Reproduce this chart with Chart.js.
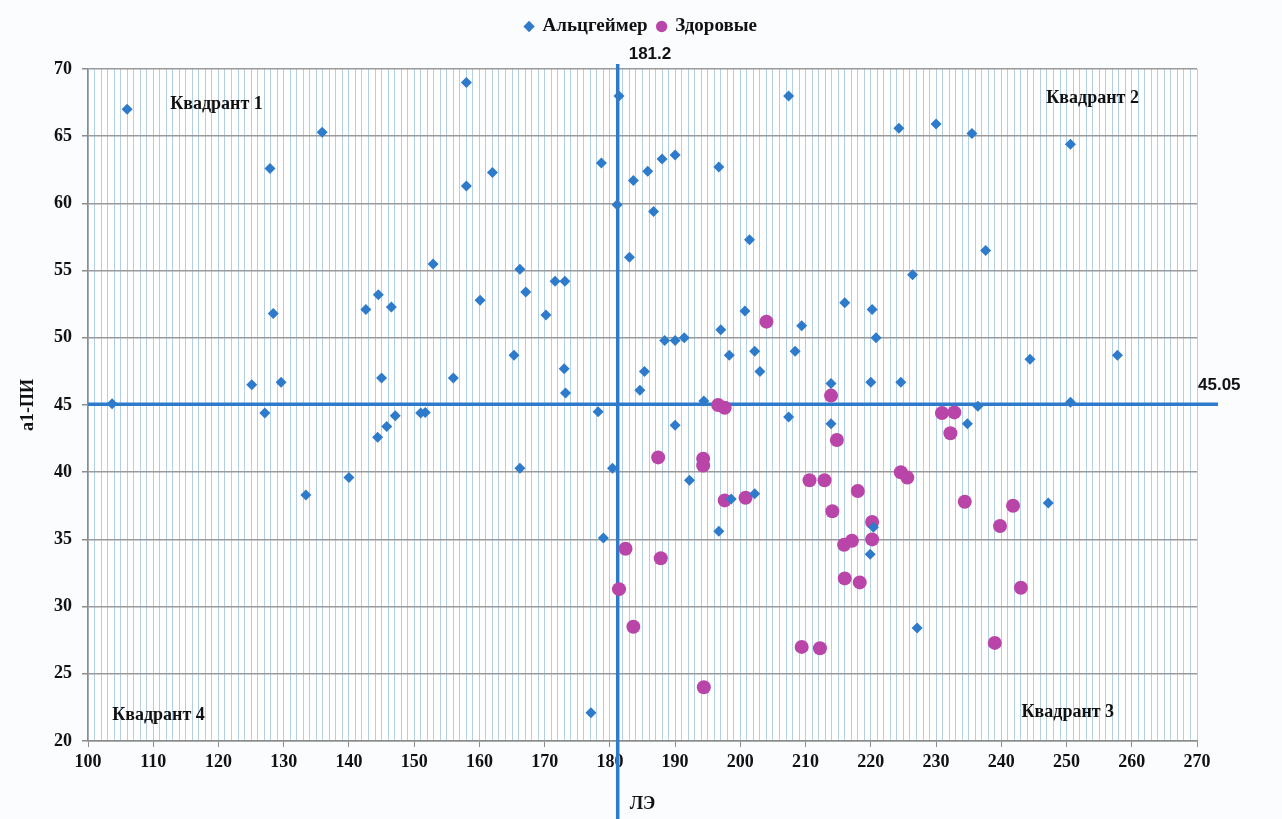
<!DOCTYPE html>
<html>
<head>
<meta charset="utf-8">
<script src="https://cdn.jsdelivr.net/npm/chart.js@4.4.1/dist/chart.umd.min.js"></script>
<style>
  html, body { margin: 0; padding: 0; background: #fbfcfe; }
  #wrap { width: 1282px; height: 819px; }
</style>
</head>
<body>
<div id="wrap"><canvas id="c" width="1282" height="819"></canvas></div>
<script>
// ЛЭ (x) and a1-ПИ (y) for the Alzheimer group
const alzX = [106.0, 127.9, 135.9, 158.0, 128.4, 125.1, 127.1, 129.6, 103.7, 133.4,
  140.0, 142.6, 144.5, 146.5, 145.0, 144.4, 145.8, 147.1, 151.0, 151.7,
  152.9, 156.0, 158.0, 162.0, 160.1, 165.3, 166.2, 167.1, 166.2, 170.2,
  171.6, 173.1, 173.0, 173.2, 178.2, 180.4, 179.0, 177.1, 178.7, 181.1,
  181.4, 183.0, 183.6, 185.8, 188.0, 190.0, 186.7, 196.7, 201.4, 207.4,
  188.4, 190.0, 191.4, 185.3, 184.6, 190.0, 192.2, 194.4, 197.0, 198.3,
  200.7, 202.2, 203.0, 209.4, 208.4, 207.4, 216.0, 220.2, 220.8, 213.9,
  220.0, 213.9, 198.6, 202.2, 196.7, 219.9, 220.4, 227.1, 224.3, 230.0,
  235.5, 237.6, 250.6, 226.4, 244.4, 257.8, 224.6, 236.4, 234.8, 250.6,
  247.2];
const alzY = [67.0, 62.6, 65.3, 69.0, 51.8, 46.5, 44.4, 46.7, 45.1, 38.3,
  39.6, 52.1, 53.2, 52.3, 47.0, 42.6, 43.4, 44.2, 44.4, 44.45,
  55.5, 47.0, 61.3, 62.3, 52.8, 48.7, 55.1, 53.4, 40.3, 51.7,
  54.2, 54.2, 47.7, 45.9, 44.5, 40.3, 35.1, 22.1, 63.0, 59.9,
  68.0, 56.0, 61.7, 62.4, 63.3, 63.6, 59.4, 62.7, 57.3, 68.0,
  49.8, 49.8, 50.0, 47.5, 46.1, 43.5, 39.4, 45.3, 50.6, 48.7,
  52.0, 49.0, 47.5, 50.9, 49.0, 44.1, 52.6, 52.1, 50.0, 46.6,
  46.7, 43.6, 38.0, 38.4, 35.6, 33.9, 35.9, 28.4, 65.6, 65.9,
  65.2, 56.5, 64.4, 54.7, 48.4, 48.7, 46.7, 44.9, 43.6, 45.2,
  37.7];

// ЛЭ (x) and a1-ПИ (y) for the healthy group
const healthyX = [204.0, 213.9, 196.6, 197.6, 214.8, 187.4, 194.3, 194.3, 210.6, 212.9,
  218.0, 197.6, 200.8, 214.1, 220.2, 230.9, 232.8, 232.2, 224.6, 225.6,
  234.4, 241.8, 239.8, 182.4, 187.8, 181.4, 183.6, 194.4, 209.4, 212.2,
  215.9, 217.1, 220.2, 216.0, 218.3, 243.0, 239.0];
const healthyY = [51.2, 45.7, 45.0, 44.8, 42.4, 41.1, 41.0, 40.5, 39.4, 39.4,
  38.6, 37.9, 38.1, 37.1, 36.3, 44.4, 44.45, 42.9, 40.0, 39.6,
  37.8, 37.5, 36.0, 34.3, 33.6, 31.3, 28.5, 24.0, 27.0, 26.9,
  34.6, 34.9, 35.0, 32.1, 31.8, 31.4, 27.3];

// Cut-off values splitting the plane into quadrants
const cutX = 181.2;
const cutY = 45.05;

const seriesNames = ['Альцгеймер', 'Здоровые'];
const quadrantNames = ['Квадрант 1', 'Квадрант 2', 'Квадрант 3', 'Квадрант 4'];
const axisTitles = { x: 'ЛЭ', y: 'a1-ПИ' };

const BLUE = '#2f7bcb';
const PINK = '#b945a9';
const SERIF = '"Liberation Serif", "Times New Roman", serif';
const SANS = '"Liberation Sans", Arial, sans-serif';

const toPoints = (xs, ys) => xs.map((x, i) => ({ x, y: ys[i] }));

const quadrantPlugin = {
  id: 'quadrants',
  beforeDraw(chart) {
    const { ctx, chartArea: a } = chart;
    ctx.save();
    ctx.fillStyle = '#ffffff';
    ctx.fillRect(a.left, a.top, a.right - a.left, a.bottom - a.top);
    ctx.restore();
  },
  beforeDatasetsDraw(chart) {
    const { ctx, chartArea: a, scales } = chart;
    const px = scales.x.getPixelForValue(cutX);
    const py = scales.y.getPixelForValue(cutY);
    ctx.save();
    ctx.strokeStyle = BLUE;
    ctx.lineWidth = 3.5;
    ctx.beginPath();
    ctx.moveTo(px, a.top - 5);
    ctx.lineTo(px, chart.height);
    ctx.stroke();
    ctx.beginPath();
    ctx.moveTo(a.left, py);
    ctx.lineTo(a.right + 21, py);
    ctx.stroke();
    ctx.restore();
  },
  afterDraw(chart) {
    const { ctx, chartArea: a, scales } = chart;
    const px = scales.x.getPixelForValue(cutX);
    const py = scales.y.getPixelForValue(cutY);
    ctx.save();
    ctx.fillStyle = '#111111';
    ctx.textBaseline = 'middle';
    ctx.textAlign = 'left';
    ctx.font = 'bold 17px ' + SANS;
    ctx.fillText(String(cutX), px + 11, a.top - 15);
    ctx.fillText(String(cutY), a.right + 1, py - 19);

    ctx.font = 'bold 18px ' + SERIF;
    const qx = scales.x, qy = scales.y;
    ctx.fillText(quadrantNames[0], qx.getPixelForValue(112.6), qy.getPixelForValue(67.4));
    ctx.fillText(quadrantNames[1], qx.getPixelForValue(246.9), qy.getPixelForValue(67.85));
    ctx.fillText(quadrantNames[2], qx.getPixelForValue(243.1), qy.getPixelForValue(22.1));
    ctx.fillText(quadrantNames[3], qx.getPixelForValue(103.7), qy.getPixelForValue(21.9));
    ctx.restore();
  }
};

new Chart(document.getElementById('c'), {
  type: 'scatter',
  data: {
    datasets: [
      {
        label: seriesNames[0],
        data: toPoints(alzX, alzY),
        xAxisID: 'x',
        yAxisID: 'y',
        pointStyle: 'rectRot',
        pointRadius: 5.5,
        pointHoverRadius: 5.5,
        backgroundColor: BLUE,
        borderColor: BLUE,
        borderWidth: 0
      },
      {
        label: seriesNames[1],
        data: toPoints(healthyX, healthyY),
        xAxisID: 'x',
        yAxisID: 'y',
        pointStyle: 'circle',
        pointRadius: 7,
        pointHoverRadius: 7,
        backgroundColor: PINK,
        borderColor: PINK,
        borderWidth: 0
      }
    ]
  },
  options: {
    responsive: false,
    animation: false,
    events: [],
    layout: { padding: { top: 7, left: 0, right: 0, bottom: 0 } },
    plugins: {
      tooltip: { enabled: false },
      legend: {
        position: 'top',
        labels: {
          usePointStyle: true,
          boxWidth: 8,
          boxHeight: 8,
          padding: 10,
          color: '#111111',
          font: { family: SERIF, size: 19, weight: 'bold' }
        }
      }
    },
    scales: {
      xTop: {
        type: 'linear',
        position: 'top',
        axis: 'x',
        min: 0,
        max: 1,
        grid: { display: false, drawTicks: false },
        border: { display: false },
        ticks: { display: false },
        afterFit(s) { s.height = 23; }
      },
      yRight: {
        type: 'linear',
        position: 'right',
        axis: 'y',
        min: 0,
        max: 1,
        grid: { display: false, drawTicks: false },
        border: { display: false },
        ticks: { display: false },
        afterFit(s) { s.width = 85; }
      },
      x: {
        type: 'linear',
        position: 'bottom',
        min: 100,
        max: 270,
        grid: {
          color: '#b3cfe4',
          lineWidth: 1,
          tickLength: 6,
          tickColor: (c) => (c.tick && c.tick.value % 10 === 0) ? '#8c8c8c' : 'rgba(0,0,0,0)'
        },
        border: { color: '#8c8c8c', width: 1.5 },
        ticks: {
          stepSize: 1,
          autoSkip: false,
          maxRotation: 0,
          padding: 5,
          color: '#111111',
          font: { family: SERIF, size: 18, weight: 'bold' },
          callback: (v) => (v % 10 === 0 ? String(v) : '')
        },
        title: {
          display: true,
          text: axisTitles.x,
          color: '#111111',
          padding: { top: 0, bottom: 4 },
          font: { family: SERIF, size: 18, weight: 'bold' }
        },
        afterFit(s) { s.height = 78; }
      },
      y: {
        type: 'linear',
        position: 'left',
        min: 20,
        max: 70,
        grid: { color: '#9a9a9a', lineWidth: 1.5, tickLength: 6, tickColor: '#8c8c8c' },
        border: { color: '#8c8c8c', width: 1.5 },
        ticks: {
          stepSize: 5,
          padding: 10,
          color: '#111111',
          font: { family: SERIF, size: 18, weight: 'bold' }
        },
        title: {
          display: true,
          text: axisTitles.y,
          color: '#111111',
          padding: { top: 18, bottom: 0 },
          font: { family: SERIF, size: 18, weight: 'bold' }
        },
        afterFit(s) { s.width = 88; }
      }
    }
  },
  plugins: [quadrantPlugin]
});
</script>
</body>
</html>
